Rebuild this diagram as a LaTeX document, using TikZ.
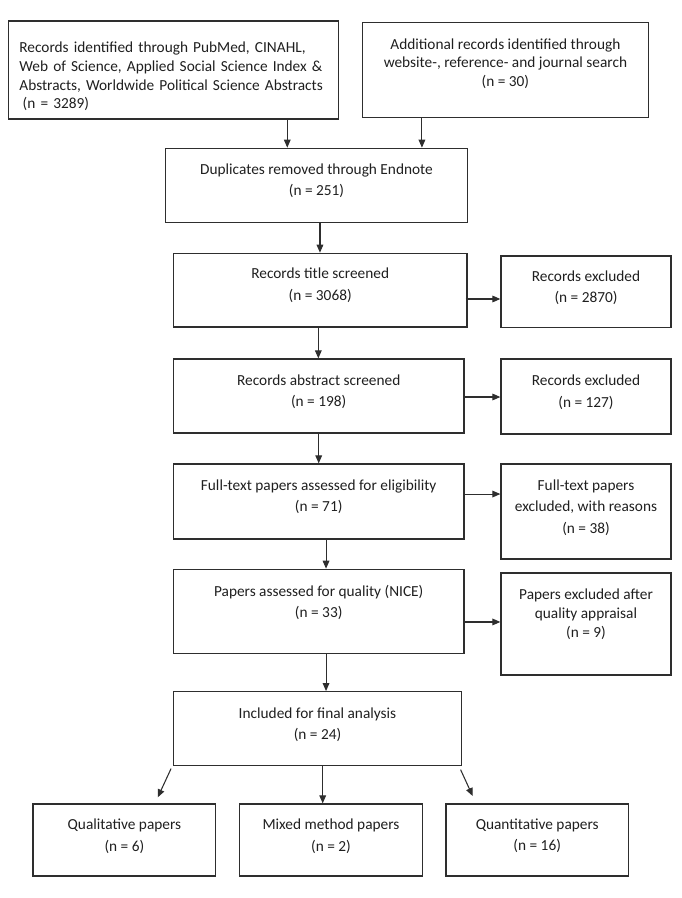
\documentclass[tikz,border=0pt]{standalone}
\usepackage{fontspec}
\setmainfont{Carlito}
\usetikzlibrary{arrows.meta,positioning,calc}
\definecolor{boxline}{HTML}{2E2E2E}
\definecolor{boxtext}{HTML}{1F1F1F}

\tikzset{
  lift/.style={execute at end node={\rule[-#1]{0pt}{#1}}},
  box/.style={draw=boxline, line width=0.95pt, align=center, inner sep=0pt, text=boxtext, font=\fontsize{11.5}{16}\selectfont, lift=7.5pt},
  tightbox/.style={box, font=\fontsize{11.5}{14}\selectfont},
  sidebox/.style={box, minimum width=127.5pt},
  mainbox/.style={box, minimum width=218pt},
  endbox/.style={box, minimum width=137pt, minimum height=54pt},
  flow/.style={draw=boxline, line width=0.8pt, -{Triangle[length=6pt,width=5pt]}},
}

\begin{document}
\begin{tikzpicture}[x=0.75pt,y=-0.75pt]
  \useasboundingbox (0,0) rectangle (681,898);
  % identification
  \node[tightbox, minimum width=247.7pt, minimum height=71pt, text width=231pt, align=left, execute at begin node={\rule{0pt}{24pt}}] (search) at (173.4,70) {Records identified through PubMed, CINAHL,\\Web of Science, Applied Social Science Index \&\\Abstracts, Worldwide Political Science Abstracts\\\hspace*{2.5pt}(n = 3289)};
  \node[tightbox, minimum width=214.6pt, minimum height=71pt, lift=11pt] (extra) at (505.4,70) {Additional records identified through\\website-, reference- and journal search\\(n = 30)};
  \node[box, minimum width=226.2pt, minimum height=55.5pt, lift=8pt] (dupl) at (316.5,185.3) {Duplicates removed through Endnote\\(n = 251)};
  % screening
  \node[box, minimum width=220.3pt, minimum height=55.3pt, lift=9pt] (title) at (320.2,290.2) {Records title screened\\(n = 3068)};
  \node[sidebox, minimum height=53.8pt] (titleex) at (586,291.9) {Records excluded\\(n = 2870)};
  \node[mainbox, minimum height=55.5pt] (abstr) at (318.7,396) {Records abstract screened\\(n = 198)};
  \node[sidebox, minimum height=56.25pt, lift=8pt] (abstrex) at (586,396.5) {Records excluded\\(n = 127)};
  % eligibility
  \node[mainbox, minimum height=56.25pt, lift=9pt] (full) at (318.7,501.5) {Full-text papers assessed for eligibility\\(n = 71)};
  \node[sidebox, minimum height=71.25pt] (fullex) at (586,511.5) {Full-text papers\\excluded, with reasons\\(n = 38)};
  \node[mainbox, minimum height=63pt, lift=15pt] (qual) at (318.7,611.3) {Papers assessed for quality (NICE)\\(n = 33)};
  \node[sidebox, minimum height=76.5pt, font=\fontsize{11.5}{14.5}\selectfont, lift=16pt] (qualex) at (586,624) {Papers excluded after\\quality appraisal\\(n = 9)};
  % included
  \node[box, minimum width=216.3pt, minimum height=55.5pt, lift=8pt] (incl) at (317.5,728.7) {Included for final analysis\\(n = 24)};
  \node[endbox] (qualit) at (124.4,840) {Qualitative papers\\(n = 6)};
  \node[endbox] (mixed) at (331,840) {Mixed method papers\\(n = 2)};
  \node[endbox] (quant) at (537.2,840) {Quantitative papers\\(n = 16)};

  \draw[flow] ([xshift=85.4pt]search.south) -- ([xshift=85.4pt]search.south |- dupl.north);
  \draw[flow] ([xshift=-62.6pt]extra.south) -- ([xshift=-62.6pt]extra.south |- dupl.north);
  \draw[flow] ([xshift=2.6pt]dupl.south) -- ([xshift=2.6pt]dupl.south |- title.north);
  \draw[flow] ([xshift=-1.4pt]title.south) -- ([xshift=-1.4pt]title.south |- abstr.north);
  \draw[flow] (abstr.south) -- (abstr.south |- full.north);
  \draw[flow] ([xshift=5.5pt]full.south) -- ([xshift=5.5pt]full.south |- qual.north);
  \draw[flow] ([xshift=5.5pt]qual.south) -- ([xshift=5.5pt]qual.south |- incl.north);
  \draw[flow] ([xshift=-1.5pt,yshift=-6.6pt]title.east) -- ([yshift=-6.6pt]title.east -| titleex.west);
  \draw[flow] ([yshift=-0.75pt]abstr.east) -- ([yshift=-0.75pt]abstr.east -| abstrex.west);
  \draw[flow] ([yshift=5.6pt]full.east) -- ([yshift=5.6pt]full.east -| fullex.west);
  \draw[flow] ([yshift=-8pt]qual.east) -- ([yshift=-8pt]qual.east -| qualex.west);
  \draw[flow] ([shift={(-1.2pt,-1.7pt)}]incl.south west) -- ([shift={(25pt,4.5pt)}]qualit.north);
  \draw[flow] ([xshift=3.9pt]incl.south) -- ([xshift=3.9pt]incl.south |- mixed.north);
  \draw[flow] ([shift={(-1.3pt,-2.5pt)}]incl.south east) -- ([shift={(-48.4pt,5.5pt)}]quant.north);
\end{tikzpicture}
\end{document}
